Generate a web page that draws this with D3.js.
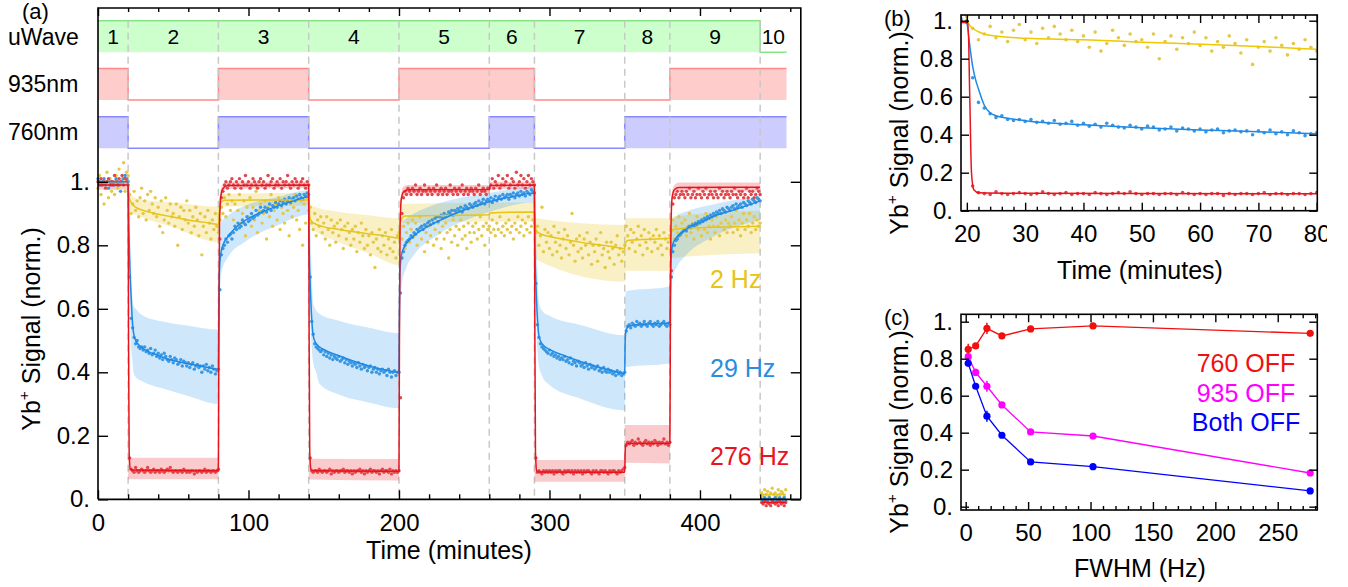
<!DOCTYPE html>
<html><head><meta charset="utf-8">
<script src="https://cdn.jsdelivr.net/npm/d3@7"></script>
<style>body{margin:0;background:#fff} svg{display:block} text{font-family:"Liberation Sans",Arial,sans-serif}</style>
</head><body><svg id="c" width="1348" height="587"></svg>
<script>
// ---------------- DATA ----------------
// panel (a): segment boundaries (minutes) and laser / microwave states
const segBounds = [0,20,80,140,200,260,290,350,380,440,457.5];
const segLabels = ['1','2','3','4','5','6','7','8','9','10'];
const uwaveOn = [1,1,1,1,1,1,1,1,1,0];
const l935On  = [1,0,1,0,1,1,0,0,1,1];
const l760On  = [1,0,1,0,0,1,0,1,1,1];

// measured signal, one point per minute, t = 0 ... 457
const red276 = [
1.00,.99,1.01,.99,1.00,.98,1.00,1.01,.99,1.00,
.99,1.02,1.00,.99,1.01,1.00,1.02,.99,1.01,1.00,
.99,.13,.095,.09,.085,.10,.09,.085,.09,.095,
.09,.085,.09,.10,.09,.085,.09,.095,.085,.09,
.09,.085,.095,.09,.085,.09,.095,.09,.10,.09,
.085,.09,.09,.085,.09,.09,.085,.095,.09,.085,
.09,.085,.09,.09,.08,.09,.085,.09,.09,.085,
.09,.095,.085,.09,.09,.085,.09,.09,.085,.09,
.095,.82,.95,.97,.99,1.00,.98,.99,1.00,1.01,
.99,.98,1.00,.99,1.01,.98,1.00,.99,1.02,.99,
1.00,.98,.99,1.01,1.00,.99,.98,1.00,1.01,.99,
1.00,.98,.99,1.02,.99,1.00,1.01,.98,.99,1.00,
.99,1.01,.98,1.00,.99,1.00,1.02,.99,.98,1.00,
.99,1.01,1.00,.98,.99,1.00,1.01,.99,.98,1.00,
.99,.13,.09,.085,.09,.09,.085,.095,.09,.085,
.09,.09,.085,.09,.095,.08,.09,.085,.09,.09,
.085,.09,.09,.095,.085,.09,.09,.085,.09,.08,
.09,.085,.09,.09,.095,.085,.09,.08,.09,.085,
.09,.095,.085,.09,.09,.085,.09,.08,.09,.095,
.085,.09,.09,.085,.095,.08,.09,.085,.09,.085,
.09,.32,.90,.95,.97,.96,.98,.97,.96,.98,
.97,.99,.96,.97,.98,.96,.97,.99,.97,.96,
.98,.97,.96,.98,.97,.99,.96,.97,.98,.96,
.97,.98,.96,.97,.99,.97,.96,.98,.97,.96,
.98,.97,.99,.96,.97,.98,.96,.97,.98,.97,
.96,.98,.97,.99,.96,.97,.98,.97,.96,.98,
.98,.99,1.01,.98,1.00,.99,1.02,.98,.99,1.01,
.99,1.00,1.02,.98,.99,1.01,1.00,.98,1.03,.99,
1.00,1.02,.99,1.01,.98,1.00,1.02,.99,1.01,1.00,
.99,.13,.085,.09,.085,.08,.09,.085,.09,.085,
.09,.085,.09,.08,.09,.085,.09,.09,.085,.08,
.09,.085,.09,.09,.085,.09,.08,.09,.085,.09,
.085,.09,.08,.09,.085,.09,.09,.085,.08,.09,
.085,.09,.085,.08,.09,.09,.085,.09,.085,.08,
.09,.085,.09,.09,.085,.08,.09,.085,.09,.095,
.10,.17,.18,.175,.18,.185,.17,.18,.175,.19,
.18,.175,.17,.18,.185,.175,.18,.17,.18,.175,
.185,.18,.17,.18,.175,.18,.19,.175,.18,.17,
.18,.72,.93,.95,.96,.97,.95,.96,.97,.96,
.95,.97,.96,.98,.95,.96,.97,.95,.96,.98,
.96,.95,.97,.96,.98,.95,.96,.97,.96,.95,
.97,.96,.95,.98,.96,.97,.95,.96,.97,.96,
.95,.97,.96,.98,.96,.95,.97,.96,.97,.95,
.96,.98,.95,.97,.96,.97,.95,.96,.98,.97,
.96,-.01,-.015,-.005,-.02,-.01,-.015,-.02,-.005,-.01,
-.015,-.01,-.02,-.005,-.015,-.01,-.02,-.01];

const blue29 = [
1.01,1.00,.99,1.00,1.01,.99,1.00,.98,1.00,.99,
1.00,.99,1.01,1.00,.99,.97,1.00,1.01,1.02,1.01,
1.00,.70,.57,.54,.51,.49,.50,.48,.475,.48,
.47,.48,.465,.47,.46,.475,.455,.46,.47,.45,
.46,.445,.455,.44,.46,.45,.44,.435,.45,.44,
.43,.445,.44,.425,.43,.44,.42,.435,.43,.42,
.43,.415,.425,.43,.41,.42,.425,.415,.42,.40,
.42,.41,.425,.405,.415,.40,.42,.41,.395,.405,
.41,.66,.77,.79,.80,.82,.81,.83,.835,.82,
.84,.86,.85,.87,.855,.86,.88,.87,.865,.89,
.875,.88,.90,.885,.89,.91,.895,.90,.92,.905,
.91,.92,.905,.915,.93,.91,.925,.92,.935,.92,
.93,.94,.925,.935,.945,.93,.94,.95,.935,.945,
.95,.94,.955,.945,.96,.95,.945,.96,.955,.965,
.96,.70,.56,.52,.49,.48,.475,.47,.465,.47,
.455,.465,.45,.46,.445,.455,.44,.45,.445,.44,
.45,.435,.44,.445,.43,.44,.425,.435,.43,.42,
.43,.425,.415,.43,.42,.41,.425,.415,.42,.405,
.415,.42,.40,.41,.415,.40,.41,.395,.405,.41,
.40,.405,.39,.41,.40,.385,.40,.405,.39,.40,
.40,.65,.76,.78,.80,.81,.815,.82,.83,.825,
.84,.835,.85,.845,.855,.86,.85,.865,.86,.87,
.875,.865,.88,.87,.885,.89,.875,.89,.895,.885,
.90,.89,.895,.905,.90,.91,.895,.91,.905,.915,
.91,.92,.905,.915,.925,.92,.915,.93,.925,.92,
.93,.935,.925,.94,.93,.935,.945,.93,.94,.945,
.94,.95,.935,.945,.955,.94,.95,.955,.945,.96,
.95,.955,.96,.945,.96,.955,.965,.95,.96,.965,
.955,.97,.96,.965,.955,.97,.965,.96,.975,.97,
.965,.68,.55,.51,.49,.48,.475,.47,.465,.46,
.47,.455,.46,.45,.455,.445,.45,.44,.445,.44,
.45,.435,.44,.43,.445,.425,.435,.43,.42,.435,
.43,.42,.425,.415,.43,.42,.41,.425,.415,.42,
.41,.415,.42,.405,.41,.40,.415,.405,.40,.41,
.40,.405,.395,.40,.39,.405,.395,.40,.39,.395,
.40,.53,.545,.55,.54,.555,.55,.545,.56,.55,
.555,.545,.55,.56,.55,.545,.555,.56,.55,.545,
.555,.55,.56,.545,.55,.555,.56,.55,.545,.555,
.55,.70,.78,.80,.815,.82,.83,.835,.84,.845,
.85,.845,.855,.86,.855,.865,.86,.87,.865,.875,
.87,.88,.875,.885,.88,.89,.885,.895,.89,.90,
.895,.905,.90,.91,.90,.915,.91,.905,.92,.915,
.91,.92,.925,.915,.93,.92,.925,.93,.92,.935,
.93,.925,.94,.935,.93,.945,.94,.935,.95,.945,
.94,0,-.005,.005,0,-.005,.005,0,-.01,0,
.005,-.005,0,.005,-.01,0,.005,-.005];

const yellow2 = [
.98,1.02,.96,1.00,.93,.99,1.03,.95,1.01,.97,
1.00,.96,1.02,.98,1.04,.99,1.01,1.06,.97,1.03,
1.02,.96,.90,.93,.97,.91,.94,.89,.95,.98,
.90,.94,.88,.96,.91,.97,.93,.90,.95,.89,
.92,.86,.94,.84,.88,.95,.91,.87,.93,.89,
.90,.86,.93,.80,.89,.92,.85,.91,.88,.94,
.87,.91,.84,.89,.86,.92,.88,.83,.90,.77,
.86,.89,.84,.91,.87,.82,.88,.85,.90,.86,
.84,.88,.92,.90,.95,.89,.93,.96,.91,.94,
.88,.93,.85,.91,.96,.87,.90,.94,.83,.92,
.89,.95,.86,.92,.88,.97,.84,.91,.93,.87,
.90,.94,.82,.92,.89,.96,.86,.91,.93,.88,
.95,.85,.92,.90,.87,.94,.91,.83,.93,.89,
.92,.96,.88,.91,.85,.94,.80,.93,.87,.95,
.91,.92,.87,.85,.90,.83,.88,.86,.89,.84,
.87,.82,.89,.85,.80,.88,.84,.86,.81,.87,
.83,.88,.85,.79,.86,.82,.87,.84,.80,.85,
.82,.86,.78,.84,.81,.87,.83,.79,.85,.80,
.83,.77,.84,.81,.73,.82,.79,.85,.78,.83,
.80,.84,.77,.82,.79,.85,.78,.81,.76,.83,
.84,.88,.82,.86,.79,.84,.87,.81,.85,.88,
.83,.87,.80,.85,.89,.82,.86,.78,.84,.81,
.86,.83,.88,.80,.85,.82,.87,.84,.79,.86,
.82,.87,.84,.76,.85,.81,.88,.83,.86,.80,
.85,.88,.82,.86,.83,.79,.87,.84,.81,.86,
.84,.87,.82,.85,.89,.83,.86,.80,.87,.85,
.86,.84,.88,.85,.83,.87,.85,.89,.84,.86,
.83,.87,.85,.88,.84,.86,.82,.87,.85,.89,
.84,.86,.88,.83,.87,.85,.89,.84,.86,.88,
.87,.84,.86,.80,.83,.92,.78,.85,.81,.84,
.79,.83,.77,.86,.81,.78,.84,.80,.76,.82,
.85,.79,.83,.77,.81,.90,.80,.75,.82,.78,
.83,.79,.76,.82,.80,.84,.77,.81,.74,.80,
.78,.82,.75,.80,.84,.77,.79,.73,.81,.78,
.76,.81,.79,.74,.80,.83,.77,.79,.75,.78,
.80,.86,.83,.79,.85,.81,.84,.78,.82,.86,
.80,.83,.77,.85,.81,.79,.84,.82,.78,.83,
.81,.85,.79,.83,.80,.77,.84,.82,.79,.81,
.83,.85,.88,.82,.86,.84,.89,.83,.87,.85,
.88,.83,.86,.90,.84,.87,.82,.86,.89,.85,
.87,.83,.88,.85,.90,.84,.86,.82,.88,.86,
.84,.89,.86,.83,.87,.91,.85,.88,.84,.87,
.86,.89,.84,.87,.91,.85,.88,.83,.87,.90,
.85,.88,.86,.90,.84,.87,.89,.85,.88,.86,
.87,.02,.01,.03,.015,.025,.01,.02,.035,.015,
.02,.01,.03,.015,.025,.02,.01,.03];

// fitted curves [t, value]; null breaks the line
const yellowFit = [[0,1.0],[20,1.0],[20.5,0.96],[21,0.945],[22,0.935],[25,0.92],[30,0.91],[40,0.898],[50,0.889],[60,0.88],[70,0.873],[80,0.866],
 [80.5,0.9],[81,0.925],[82,0.937],[84,0.942],[140,0.943],
 [140.5,0.9],[141,0.885],[142,0.875],[145,0.866],[150,0.858],[160,0.85],[170,0.843],[180,0.836],[190,0.83],[200,0.823],
 [200.5,0.855],[201,0.875],[202,0.885],[204,0.892],[260,0.896],[260.5,0.902],[290,0.905],
 [290.5,0.865],[291,0.85],[292,0.842],[295,0.834],[300,0.828],[310,0.818],[320,0.81],[330,0.803],[340,0.797],[350,0.79],
 [350.5,0.805],[351,0.812],[353,0.816],[380,0.822],
 [380.5,0.835],[381,0.843],[383,0.85],[390,0.854],[410,0.857],[440,0.86],
 [440.5,null],[441,0.015],[457,0.015]];
const blueFit = [[0,1.0],[20,1.0],[20.5,0.86],[21,0.76],[22,0.64],[23,0.55],[24,0.515],[25,0.50],[27,0.487],[30,0.475],[40,0.453],[50,0.437],[60,0.427],[70,0.418],[80,0.41],
 [80.3,0.6],[80.7,0.72],[81.5,0.77],[83,0.80],[86,0.825],[93,0.862],[100,0.885],[109,0.905],[120,0.925],[130,0.94],[140,0.953],
 [140.3,0.80],[141,0.68],[142,0.57],[143,0.515],[145,0.49],[150,0.472],[160,0.452],[170,0.435],[180,0.42],[190,0.408],[200,0.40],
 [200.3,0.6],[200.7,0.72],[201.5,0.765],[203,0.79],[208,0.822],[217,0.853],[230,0.885],[240,0.905],[250,0.922],[260,0.937],[275,0.953],[290,0.965],
 [290.3,0.80],[291,0.68],[292,0.57],[293,0.515],[295,0.49],[300,0.472],[310,0.452],[320,0.435],[330,0.42],[340,0.407],[350,0.397],
 [350.3,0.5],[351,0.535],[353,0.546],[360,0.551],[380,0.555],
 [380.3,0.68],[380.8,0.76],[382,0.805],[385,0.828],[390,0.848],[400,0.872],[410,0.893],[425,0.915],[440,0.94],
 [440.5,null],[441,0],[457,0]];
const redFit = [[0,0.99],[20,0.99],[20.3,0.5],[20.7,0.15],[21.5,0.095],[23,0.092],[80,0.09],
 [80.3,0.5],[80.7,0.85],[81.5,0.95],[83,0.978],[86,0.988],[140,0.99],
 [140.3,0.5],[140.7,0.15],[141.5,0.095],[143,0.09],[200,0.088],
 [200.3,0.5],[200.7,0.85],[201.5,0.945],[203,0.968],[206,0.975],[260,0.976],[260.5,0.988],[290,0.99],
 [290.3,0.5],[290.7,0.15],[291.5,0.09],[293,0.086],[350,0.085],
 [350.3,0.15],[350.7,0.172],[351.5,0.176],[380,0.176],
 [380.3,0.5],[380.7,0.85],[381.5,0.95],[383,0.975],[386,0.982],[440,0.983],
 [440.5,null],[441,-0.01],[457,-0.01]];

// uncertainty bands [t, low, high]
const yellowBand = [[20,0.98,1.0],[20.5,0.93,0.99],[21,0.915,0.975],[22,0.905,0.96],[27,0.893,0.945],[50,0.857,0.935],[80,0.81,0.922],
 [80.5,0.86,0.94],[81,0.9,0.955],[82,0.922,0.962],[140,0.925,0.965],
 [140.5,0.88,0.94],[141,0.865,0.93],[142,0.855,0.925],[160,0.81,0.905],[180,0.775,0.895],[200,0.738,0.885],
 [200.5,0.8,0.9],[201,0.845,0.915],[202,0.87,0.93],[260,0.875,0.935],[290,0.875,0.935],
 [290.5,0.79,0.9],[291,0.755,0.885],[350,0.685,0.864],
 [350.5,0.72,0.885],[380,0.72,0.885],
 [380.5,0.75,0.888],[381,0.76,0.89],[440,0.775,0.91]];
const blueBand = [[20,0.99,1.01],[20.5,0.80,0.97],[21,0.62,0.90],[22,0.48,0.72],[23,0.43,0.63],[23.5,0.40,0.61],[25,0.385,0.60],[30,0.37,0.578],[46,0.345,0.557],[60,0.325,0.547],[80,0.30,0.535],
 [80.5,0.50,0.80],[81,0.64,0.85],[82.2,0.72,0.875],[86.6,0.764,0.895],[97.7,0.811,0.925],[119.8,0.864,0.952],[140,0.897,0.973],
 [140.5,0.75,0.95],[141,0.60,0.88],[142,0.48,0.71],[143,0.43,0.62],[145,0.40,0.595],[147,0.365,0.585],[160,0.33,0.562],[180,0.305,0.54],[200,0.287,0.523],
 [200.5,0.50,0.80],[201,0.62,0.845],[202,0.68,0.87],[205,0.73,0.885],[210,0.77,0.90],[225,0.83,0.93],[260,0.905,0.965],[290,0.935,0.985],
 [290.5,0.75,0.95],[291,0.60,0.88],[292,0.47,0.71],[293,0.42,0.62],[295,0.39,0.595],[300,0.36,0.578],[320,0.318,0.55],[350,0.28,0.517],
 [350.3,0.40,0.62],[351,0.417,0.655],[380,0.428,0.67],
 [380.5,0.58,0.82],[381,0.64,0.86],[382,0.70,0.88],[385,0.735,0.895],[390,0.765,0.905],[410,0.83,0.93],[440,0.88,0.955]];
const redBand = [[0,0.975,1.005],[20,0.975,1.005],[20.05,0.063,0.131],[80,0.063,0.131],[80.3,0.4,0.6],[80.7,0.8,0.9],[81.5,0.94,0.975],[83,0.97,0.99],[86,0.978,1.0],[140,0.98,1.0],
 [140.05,0.062,0.128],[200,0.059,0.127],[200.3,0.4,0.6],[200.7,0.8,0.9],[201.5,0.93,0.965],[203,0.955,0.985],[206,0.962,0.99],[260,0.963,0.99],[260.5,0.975,1.0],[290,0.978,1.0],
 [290.05,0.055,0.124],[350,0.055,0.124],[350.05,0.115,0.234],[380,0.113,0.234],[380.3,0.4,0.6],[380.7,0.8,0.9],[381.5,0.935,0.97],[383,0.962,0.99],[386,0.97,0.998],[440,0.97,0.998]];

// panel (b): fits over the first dark period (data points shared with panel a, t = 19 ... 80)
const bYellowFit = [[20,1.0],[20.5,0.975],[21,0.96],[22,0.942],[23,0.93],[25,0.919],[30,0.908],[40,0.9],[50,0.887],[60,0.876],[70,0.864],[80,0.849]];
const bBlueFit = [[20,1.0],[20.5,0.87],[21,0.76],[21.5,0.69],[22,0.64],[23,0.555],[24,0.515],[25,0.50],[27,0.487],[30,0.474],[40,0.452],[50,0.436],[60,0.425],[70,0.416],[80,0.405]];
const bRedFit = [[19,0.99],[20.2,0.99],[20.5,0.6],[20.8,0.2],[21.2,0.11],[22,0.095],[30,0.092],[80,0.089]];

// panel (c)
const fwhm = [2, 8, 17, 29, 52, 102, 276];
const off760 = [0.851, 0.869, 0.964, 0.923, 0.961, 0.977, 0.937];
const off935 = [0.811, 0.726, 0.651, 0.55, 0.404, 0.382, 0.182];
const offBoth = [0.775, 0.651, 0.489, 0.386, 0.242, 0.216, 0.085];
const err760 = [0.03, 0.015, 0.03, 0.015, 0.015, 0.01, 0.01];
const err935 = [0.02, 0.02, 0.03, 0.015, 0.01, 0.01, 0.01];
const errBoth = [0.015, 0.015, 0.03, 0.015, 0.01, 0.01, 0.01];

// ticks
const yTicks = [0, 0.2, 0.4, 0.6, 0.8, 1.0];
const xTicksA = [0, 100, 200, 300, 400];
const xTicksB = [20, 30, 40, 50, 60, 70, 80];
const xTicksC = [0, 50, 100, 150, 200, 250];

// ---------------- DRAWING ----------------
const svg = d3.select('#c');
const defs = svg.append('defs');
const C = {yel:'#e6c419', yelPt:'#e5c84a', blu:'#1e88e5', bluPt:'#3a98e2', red:'#e8141c', redPt:'#e2474d'};
const yFmt = v => v === 0 ? '0.' : v === 1 ? '1.' : d3.format('.1f')(v);
const FS = 24;

function styleAxis(g, fs) {
  g.select('.domain').remove();
  g.selectAll('line').attr('stroke', '#000').attr('stroke-width', 1.4);
  g.selectAll('text').attr('font-size', fs).attr('fill', '#000').attr('font-family', '"Liberation Sans",Arial,sans-serif');
}
function frameAxes(x, y, xMaj, xMin, yMaj, opts) {
  const [x0, x1] = x.range(), [y0, y1] = y.range();
  const g = svg.append('g');
  const botWrap = g.append('g');
  const bot = botWrap.append('g').attr('transform', `translate(0,${y0})`)
    .call(d3.axisBottom(x).tickValues(xMaj).tickSize(-opts.maj).tickPadding(opts.xpad).tickFormat(opts.xfmt || d3.format('d')));
  styleAxis(bot, opts.fs);
  const botm = g.append('g').attr('transform', `translate(0,${y0})`)
    .call(d3.axisBottom(x).tickValues(xMin).tickSize(-opts.min).tickFormat(''));
  styleAxis(botm, opts.fs);
  const top = g.append('g').attr('transform', `translate(0,${y1})`)
    .call(d3.axisTop(x).tickValues(xMaj).tickSize(-opts.maj).tickFormat(''));
  styleAxis(top, opts.fs);
  const topm = g.append('g').attr('transform', `translate(0,${y1})`)
    .call(d3.axisTop(x).tickValues(xMin).tickSize(-opts.min).tickFormat(''));
  styleAxis(topm, opts.fs);
  const lef = g.append('g').attr('transform', `translate(${x0},0)`)
    .call(d3.axisLeft(y).tickValues(yMaj).tickSize(-opts.ymaj).tickPadding(opts.ypad).tickFormat(yFmt));
  styleAxis(lef, opts.fs);
  const rig = g.append('g').attr('transform', `translate(${x1},0)`)
    .call(d3.axisRight(y).tickValues(yMaj).tickSize(-opts.ymaj).tickFormat(''));
  styleAxis(rig, opts.fs);
  g.append('rect').attr('x', x0).attr('y', y1).attr('width', x1 - x0).attr('height', y0 - y1)
    .attr('fill', 'none').attr('stroke', '#000').attr('stroke-width', 1.6);
  return {botWrap, g};
}
function yTitle(cx, cy, fs) {
  const t = svg.append('text').attr('transform', `translate(${cx},${cy}) rotate(-90)`)
    .attr('text-anchor', 'middle').attr('font-size', fs).attr('dy', '0.35em');
  t.append('tspan').text('Yb');
  t.append('tspan').text('+').attr('font-size', fs * 0.62).attr('dy', -fs * 0.42);
  t.append('tspan').text(' Signal (norm.)').attr('dy', fs * 0.42);
}
function pts(g, vals, color, x, y, t0, t1, r) {
  g.append('g').selectAll('circle').data(vals.map((v, i) => [i, v]).filter(d => d[0] >= t0 && d[0] <= t1))
    .join('circle').attr('cx', d => x(d[0])).attr('cy', d => y(d[1])).attr('r', r).attr('fill', color);
}
function fitLine(g, data, color, x, y, w) {
  g.append('path').datum(data).attr('fill', 'none').attr('stroke', color).attr('stroke-width', w)
    .attr('d', d3.line().defined(d => d[1] != null).x(d => x(d[0])).y(d => y(d[1])).curve(d3.curveMonotoneX));
}
function band(g, data, color, op, x, y) {
  g.append('path').datum(data).attr('fill', color).attr('fill-opacity', op)
    .attr('d', d3.area().x(d => x(d[0])).y0(d => y(d[1])).y1(d => y(d[2])).curve(d3.curveMonotoneX));
}

// ===== Panel (a) =====
const xA = d3.scaleLinear().domain([0, 467]).range([98, 800.8]);
const yA = d3.scaleLinear().domain([0, 1]).range([499.3, 181.8]);
const topA = 8;

const rows = [
  {name: 'uWave', on: uwaveOn, lo: 1.408, hi: 1.507, fill: '#ccffcc', stroke: '#86e686'},
  {name: '935nm', on: l935On, lo: 1.258, hi: 1.357, fill: '#ffcccc', stroke: '#ff8888'},
  {name: '760nm', on: l760On, lo: 1.106, hi: 1.205, fill: '#ccccff', stroke: '#8888ff'}
];
const gTop = svg.append('g');
rows.forEach(r => {
  const st = segBounds.slice(0, -1).map((t, i) => [t, r.on[i]]);
  st.push([segBounds[segBounds.length - 1], r.on[r.on.length - 1]]);
  gTop.append('path').datum(st).attr('fill', r.fill)
    .attr('d', d3.area().x(d => xA(d[0])).y0(yA(r.lo)).y1(d => yA(d[1] ? r.hi : r.lo)).curve(d3.curveStepAfter));
  gTop.append('path').datum(st).attr('fill', 'none').attr('stroke', r.stroke).attr('stroke-width', 1.5)
    .attr('d', d3.line().x(d => xA(d[0])).y(d => yA(d[1] ? r.hi : r.lo)).curve(d3.curveStepAfter));
  svg.append('text').attr('x', 8).attr('y', yA((r.lo + r.hi) / 2)).attr('dy', '0.35em')
    .attr('font-size', 23).text(r.name);
});
// dashed segment boundaries
svg.append('g').selectAll('line').data(segBounds.slice(1, -1)).join('line')
  .attr('x1', d => xA(d)).attr('x2', d => xA(d)).attr('y1', yA(1.507)).attr('y2', yA(0))
  .attr('stroke', '#c8c8c8').attr('stroke-width', 1.5).attr('stroke-dasharray', '7,5');
// segment numbers
defs.append('clipPath').attr('id', 'segclip').append('rect')
  .attr('x', 0).attr('y', 0).attr('width', xA(457.5)).attr('height', 60);
svg.append('g').attr('clip-path', 'url(#segclip)').selectAll('text').data(segLabels).join('text')
  .attr('x', (d, i) => xA((segBounds[i] + segBounds[i + 1]) / 2)).attr('y', yA(1.4575)).attr('dy', '0.36em')
  .attr('text-anchor', 'middle').attr('font-size', 21).text(d => d);

const gA = svg.append('g');
band(gA, yellowBand, C.yel, 0.25, xA, yA);
band(gA, blueBand, '#2190e8', 0.22, xA, yA);
band(gA, redBand, C.red, 0.22, xA, yA);
pts(gA, yellow2, C.yelPt, xA, yA, 0, 457, 1.7);
pts(gA, blue29, C.bluPt, xA, yA, 0, 457, 1.7);
pts(gA, red276, C.redPt, xA, yA, 0, 457, 1.7);
fitLine(gA, yellowFit, C.yel, xA, yA, 1.5);
fitLine(gA, blueFit, C.blu, xA, yA, 1.5);
fitLine(gA, redFit, C.red, xA, yA, 1.5);

// axes of (a): frame spans to the top area
{
  const g = svg.append('g');
  const minorA = d3.range(20, 467, 20).filter(v => v % 100);
  styleAxis(g.append('g').attr('transform', `translate(0,499.3)`)
    .call(d3.axisBottom(xA).tickValues(xTicksA).tickSize(-9).tickPadding(15).tickFormat(d3.format('d'))), FS);
  styleAxis(g.append('g').attr('transform', `translate(0,499.3)`)
    .call(d3.axisBottom(xA).tickValues(minorA).tickSize(-5).tickFormat('')), FS);
  styleAxis(g.append('g').attr('transform', `translate(0,${topA})`)
    .call(d3.axisTop(xA).tickValues(xTicksA).tickSize(-8).tickFormat('')), FS);
  styleAxis(g.append('g').attr('transform', `translate(0,${topA})`)
    .call(d3.axisTop(xA).tickValues(minorA).tickSize(-4).tickFormat('')), FS);
  styleAxis(g.append('g').attr('transform', `translate(98,0)`)
    .call(d3.axisLeft(yA).tickValues(yTicks).tickSize(-10).tickPadding(8).tickFormat(yFmt)), FS);
  styleAxis(g.append('g').attr('transform', `translate(800.8,0)`)
    .call(d3.axisRight(yA).tickValues(yTicks).tickSize(-10).tickFormat('')), FS);
  g.append('path').attr('d', `M98,499.3V${topA}H800.8V499.3`).attr('fill', 'none').attr('stroke', '#000').attr('stroke-width', 1.6);
  g.append('line').attr('x1', 98).attr('x2', 800.8).attr('y1', 499.3).attr('y2', 499.3).attr('stroke', '#000').attr('stroke-width', 1.8);
}
svg.append('text').attr('x', 449).attr('y', 559).attr('text-anchor', 'middle').attr('font-size', 25).text('Time (minutes)');
yTitle(31, 329, 25);
svg.append('text').attr('x', 22).attr('y', 19).attr('font-size', 22).text('(a)');
svg.append('text').attr('x', 710).attr('y', 288).attr('font-size', 25).attr('fill', C.yel).text('2 Hz');
svg.append('text').attr('x', 710).attr('y', 377).attr('font-size', 25).attr('fill', '#2a8de0').text('29 Hz');
svg.append('text').attr('x', 710).attr('y', 465).attr('font-size', 25).attr('fill', C.red).text('276 Hz');

// ===== Panel (b) =====
const xB = d3.scaleLinear().domain([19, 80.1]).range([961, 1317.3]);
const yB = d3.scaleLinear().domain([0, 1.03]).range([210.7, 15]);
defs.append('clipPath').attr('id', 'bclip').append('rect').attr('x', 961).attr('y', 15).attr('width', 356.3).attr('height', 195.7);
const gB = svg.append('g').attr('clip-path', 'url(#bclip)');
pts(gB, yellow2, C.yelPt, xB, yB, 19, 80, 1.8);
pts(gB, blue29, C.bluPt, xB, yB, 19, 80, 1.8);
pts(gB, red276, C.redPt, xB, yB, 19, 80, 1.8);
fitLine(gB, bYellowFit, '#f0c800', xB, yB, 1.5);
fitLine(gB, bBlueFit, C.blu, xB, yB, 1.5);
fitLine(gB, bRedFit, C.red, xB, yB, 1.5);
defs.append('clipPath').attr('id', 'blab').append('rect').attr('x', 860).attr('y', 150).attr('width', 467).attr('height', 150);
const axB = frameAxes(xB, yB, xTicksB, d3.range(22, 80, 2).filter(v => v % 10), yTicks,
  {maj: 8, min: 4, ymaj: 8, xpad: 14, ypad: 8, fs: FS});
axB.botWrap.attr('clip-path', 'url(#blab)');
svg.append('text').attr('x', 1140).attr('y', 279).attr('text-anchor', 'middle').attr('font-size', 25).text('Time (minutes)');
yTitle(899, 133, 25);
svg.append('text').attr('x', 884).attr('y', 26).attr('font-size', 22).text('(b)');

// ===== Panel (c) =====
const xC = d3.scaleLinear().domain([-3.77, 281.7]).range([961, 1317.3]);
const yC = d3.scaleLinear().domain([-0.018, 1.04]).range([510, 314.3]);
const gC = svg.append('g');
const seriesC = [
  {v: off760, e: err760, c: '#f01010'},
  {v: off935, e: err935, c: '#ff00ff'},
  {v: offBoth, e: errBoth, c: '#0000ff'}
];
seriesC.forEach(s => {
  const d = fwhm.map((f, i) => [f, s.v[i], s.e[i]]);
  gC.append('path').datum(d).attr('fill', 'none').attr('stroke', s.c).attr('stroke-width', 1.3)
    .attr('d', d3.line().x(p => xC(p[0])).y(p => yC(p[1])));
  gC.append('g').selectAll('line').data(d).join('line')
    .attr('x1', p => xC(p[0])).attr('x2', p => xC(p[0]))
    .attr('y1', p => yC(p[1] - p[2])).attr('y2', p => yC(p[1] + p[2]))
    .attr('stroke', s.c).attr('stroke-width', 1.5);
  gC.append('g').selectAll('circle').data(d).join('circle')
    .attr('cx', p => xC(p[0])).attr('cy', p => yC(p[1])).attr('r', 3.6).attr('fill', s.c);
});
frameAxes(xC, yC, xTicksC, d3.range(10, 281, 10).filter(v => v % 50), yTicks,
  {maj: 8, min: 4, ymaj: 8, xpad: 14, ypad: 8, fs: FS});
svg.append('text').attr('x', 1140).attr('y', 577).attr('text-anchor', 'middle').attr('font-size', 25).text('FWHM (Hz)');
yTitle(899, 432, 25);
svg.append('text').attr('x', 884).attr('y', 325).attr('font-size', 22).text('(c)');
svg.append('text').attr('x', 1246).attr('y', 372).attr('text-anchor', 'middle').attr('font-size', 25).attr('fill', '#f01010').text('760 OFF');
svg.append('text').attr('x', 1246).attr('y', 401.5).attr('text-anchor', 'middle').attr('font-size', 25).attr('fill', '#ff00ff').text('935 OFF');
svg.append('text').attr('x', 1246).attr('y', 430.5).attr('text-anchor', 'middle').attr('font-size', 25).attr('fill', '#0000ff').text('Both OFF');
</script></body></html>
